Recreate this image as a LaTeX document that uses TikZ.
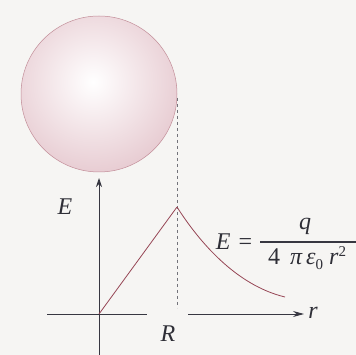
\documentclass[tikz,border=0pt]{standalone}
\usepackage{fontspec}
\setmainfont{Liberation Serif}
\usetikzlibrary{arrows.meta}
\definecolor{bg}{RGB}{246,245,243}
\definecolor{sph}{RGB}{224,188,196}
\definecolor{curve}{RGB}{150,70,85}
\definecolor{ax}{RGB}{55,55,65}
\tikzset{
  axis/.style={draw=ax, line width=0.9pt},
  lbl/.style={font=\fontsize{24}{26}\selectfont\itshape, inner sep=0pt, text=ax!85!black},
  plot/.style={draw=curve, line width=0.8pt},
}
\begin{document}
\begin{tikzpicture}[x=1pt,y=-1pt]
\useasboundingbox (0,0) rectangle (356,355);
\fill[bg] (0,0) rectangle (356,355);
% sphere
\begin{scope}
\clip (99,94) circle (78);
\shade[inner color=white, outer color=sph] (93,82) circle (120);
\end{scope}
\draw[sph!60!curve, line width=0.5pt] (99,94) circle (78);
% dashed line
\coordinate (d1) at (177,98);
\coordinate (d2) at (177,308);
\draw[ax!70, line width=0.8pt, dash pattern=on 3pt off 3pt] (d1) -- (d2);
% axes
\coordinate (O) at (99,314);
\coordinate (vb) at (99,355);
\coordinate (vt) at (99,178);
\draw[axis, -{Stealth[length=9pt,width=6pt]}] (vb) -- (vt);
\coordinate (h1) at (47,314);
\coordinate (h2) at (147,314);
\coordinate (h3) at (188,314);
\coordinate (h4) at (304,314);
\draw[axis] (h1) -- (h2);
\draw[axis, -{Stealth[length=11pt,width=6pt]}] (h3) -- (h4);
% field curve
\coordinate (P) at (177,207);
\coordinate (Q) at (285,297);
\draw[plot] (O) -- (P);
\draw[plot] (P) .. controls (198,240) and (235,285) .. (Q);
% labels
\node[lbl] (E) at (65,207) {E};
\node[lbl] (r) at (313,313) {r};
\node[lbl] (R) at (168,334) {R};
\node[lbl] (Ef) at (234,242) {E\,\,\upshape=};
\draw[ax, line width=1.3pt] (260,242) -- (360,242);
\node[lbl] (q) at (305,226) {q};
\node[lbl, anchor=base west] (den) at (268,265) {\upshape 4\, \itshape π\,ε\raisebox{-0.4ex}{\fontsize{15}{16}\selectfont\upshape 0} r\raisebox{0.8ex}{\fontsize{15}{16}\selectfont\upshape 2}};
\end{tikzpicture}
\end{document}
